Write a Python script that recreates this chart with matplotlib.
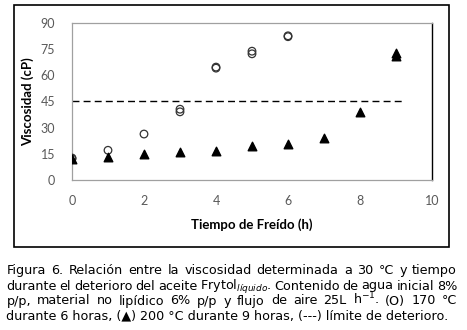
import matplotlib
matplotlib.use("Agg")
import matplotlib.pyplot as plt
from matplotlib.patches import Rectangle

# 170 C (open circles), duplicates shown at each hour
t170 = [0, 0, 1, 2, 3, 3, 4, 4, 5, 5, 6, 6]
v170 = [12.2, 12.6, 17.0, 26.3, 39.0, 40.5, 64.0, 64.6, 72.2, 73.7, 82.0, 82.5]
# 200 C (filled triangles)
t200 = [0, 1, 2, 3, 4, 5, 6, 7, 8, 9, 9]
v200 = [12.0, 13.1, 14.8, 15.9, 16.8, 19.3, 20.8, 24.3, 39.0, 71.0, 72.5]
limite = 45
lim_x = [0, 9.2]

xticks = [0, 2, 4, 6, 8, 10]
yticks = [0, 15, 30, 45, 60, 75, 90]

caption = [
    "Figura  6. Relación entre la viscosidad determinada a 30 °C y tiempo",
    "durante el deterioro del aceite Frytol$_{\\mathit{líquido}}$. Contenido de agua inicial 8%",
    "p/p, material no lipídico 6% p/p y flujo de aire 25L h$^{\\mathregular{-1}}$. (O) 170 °C",
    "durante 6 horas, (▲) 200 °C durante 9 horas, (---) límite de deterioro.",
]

W, H = 467, 330
fig = plt.figure(figsize=(W / 100, H / 100), dpi=100)

# outer chart frame
fig.patches.append(Rectangle((13.5 / W, 1 - 247 / H), (449 - 13.5) / W, (247 - 5) / H,
                             transform=fig.transFigure, fill=False, edgecolor="black", lw=1.2))

ax = fig.add_axes([72 / W, 1 - 180 / H, (432 - 72) / W, (180 - 22.7) / H])
ax.plot(lim_x, [limite, limite], color="black", ls=(0, (5, 3)), lw=1)
ax.scatter(t170, v170, marker="o", s=30, facecolors="none", edgecolors="#333333", linewidths=0.9, zorder=3)
ax.scatter(t200, v200, marker="^", s=38, color="black", zorder=4)

ax.set_xlim(0, 10)
ax.set_ylim(0, 90)
ax.set_xticks(xticks)
ax.set_yticks(yticks)
ax.tick_params(length=0, labelsize=9, colors="#595959", pad=12)
ax.tick_params(axis="x", pad=11)
for lab in ax.get_xticklabels() + ax.get_yticklabels():
    lab.set_fontfamily("Lato")
for s in ["left", "bottom", "top"]:
    ax.spines[s].set_color("#a0a0a0")
    ax.spines[s].set_linewidth(0.9)
ax.spines["right"].set_color("black")
ax.spines["right"].set_linewidth(1)
ax.set_ylabel("Viscosidad (cP)", fontsize=9.5, fontweight="bold", family="Lato", labelpad=5)
ax.set_xlabel("Tiempo de Freído (h)", fontsize=9.5, fontweight="bold", family="Lato", labelpad=8)

# caption, justified between x0 and x1
renderer = fig.canvas.get_renderer()
x0, x1 = 6.5, 457
ys = [274, 289.5, 304.5, 319.5]
fs = 9.2
for i, line in enumerate(caption):
    y = 1 - ys[i] / H
    if i == len(caption) - 1:
        fig.text(x0 / W, y, line, fontsize=fs, va="baseline", ha="left")
        continue
    words = line.split()
    texts = [fig.text(0, y, w, fontsize=fs, va="baseline", ha="left") for w in words]
    widths = [t.get_window_extent(renderer).width for t in texts]
    gap = (x1 - x0 - sum(widths)) / (len(words) - 1)
    x = x0
    for t, w in zip(texts, widths):
        t.set_x(x / W)
        x += w + gap

fig.savefig("out.png", dpi=100)
